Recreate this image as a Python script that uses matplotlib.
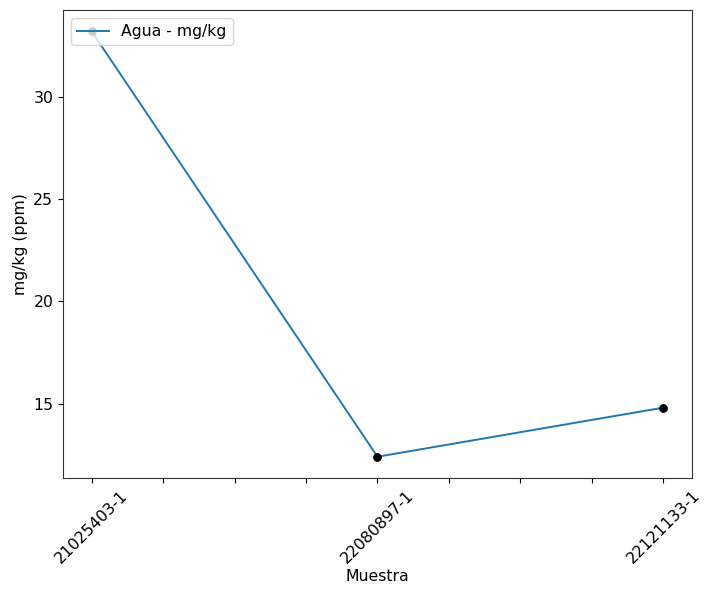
import matplotlib
matplotlib.use("Agg")
import matplotlib.pyplot as plt
import numpy as np

samples = ["21025403-1", "22080897-1", "22121133-1"]
agua = [33.2, 12.4, 14.8]
series_label = "Agua - mg/kg"

fs = 11.3
fig = plt.figure(figsize=(7.17, 5.89), dpi=100)
ax = fig.add_axes([63/717, 1 - 478/589, (692-63)/717, (478-10)/589])

x = np.arange(len(samples))
ax.plot(x, agua, color="#1f77b4", label=series_label, lw=1.4)
ax.scatter(x, agua, color="black", s=28, zorder=3)

ticks = np.arange(0, len(samples) - 1 + 0.001, 0.25)
labels = [samples[int(t)] if abs(t - round(t)) < 1e-9 else "" for t in ticks]
ax.set_xticks(ticks)
ax.set_xticklabels(labels, rotation=45, fontsize=fs)
ax.tick_params(axis="y", labelsize=fs)
ax.set_xlabel("Muestra", fontsize=fs, labelpad=2)
ax.set_ylabel("mg/kg (ppm)", fontsize=fs)
ax.legend(loc="upper left", fontsize=fs)
for s in ax.spines.values():
    s.set_color("#333333")

fig.savefig("out.png", dpi=100)
